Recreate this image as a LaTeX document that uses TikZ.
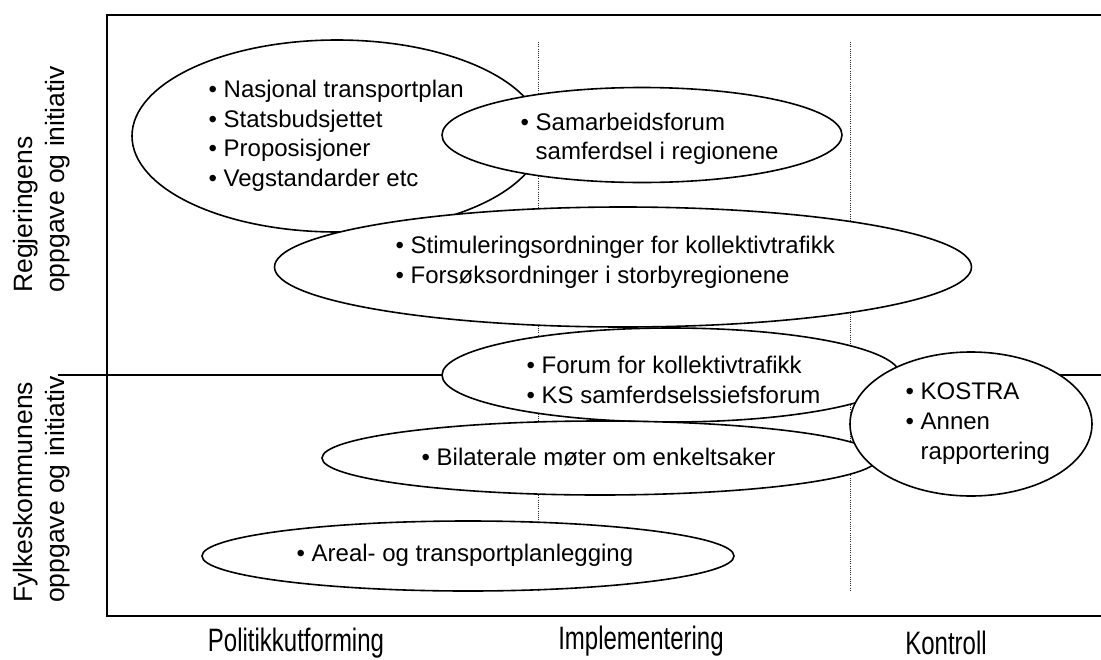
\documentclass[tikz,border=0pt]{standalone}
\usepackage{fontspec}
\setmainfont{Liberation Sans}
\usetikzlibrary{shapes.geometric}
% bullet followed by a fixed indent
\newcommand\bp{\makebox[15pt][l]{•}}
\newcommand\bpindent{\hspace*{15pt}}
% phase captions are set in a vertically stretched face
\newcommand\tallcap[1]{\scalebox{1}[1.35]{#1}}
\begin{document}
\begin{tikzpicture}[x=1pt,y=-1pt,
  frame/.style={line width=1.6pt},
  guide/.style={line width=1pt, dash pattern=on 1pt off 1.2pt, black!85},
  bubble/.style={ellipse, draw, line width=1.6pt, fill=white, inner sep=0pt},
  items/.style={anchor=west, align=left, inner sep=0pt, font=\fontsize{24}{29.5}\selectfont},
  phase/.style={anchor=base, inner sep=0pt, font=\fontsize{24}{29}\selectfont},
  side/.style={rotate=90, anchor=north west, align=left, inner sep=0pt, font=\fontsize{26.5}{32}\selectfont}]
\useasboundingbox (0,0) rectangle (1101,659);

% axes and separators
\coordinate (tl) at (107,15);
\coordinate (tr) at (1101,15);
\coordinate (bl) at (107,616);
\coordinate (br) at (1101,616);
\coordinate (ml) at (58,375);
\coordinate (mr) at (1101,375);
\coordinate (d1t) at (538,42);
\coordinate (d1b) at (538,592);
\coordinate (d2t) at (850,42);
\coordinate (d2b) at (850,592);

\draw[frame] (tr) -- (tl) -- (bl) -- (br);
\draw[frame] (ml) -- (mr);
\draw[guide] (d1t) -- (d1b);
\draw[guide] (d2t) -- (d2b);

% side labels
\node[side] (gov) at (13,293) {Regjeringens\\oppgave og initiativ};
\node[side] (cty) at (13,603) {Fylkeskommunens\\oppgave og initiativ};

% phases
\node[phase] (pol) at (296,651.5) {\tallcap{Politikkutforming}};
\node[phase] (imp) at (641,649) {\tallcap{Implementering}};
\node[phase] (kon) at (946,654) {\tallcap{Kontroll}};

% bubbles, back to front
\node[bubble, minimum width=410, minimum height=192] (e1) at (337,136) {};
\node[items] (t1) at (208.5,136) {\bp Nasjonal transportplan\\\bp Statsbudsjettet\\\bp Proposisjoner\\\bp Vegstandarder etc};

\node[bubble, minimum width=400, minimum height=95] (e2) at (642,135) {};
\node[items] (t2) at (520.5,139) {\bp Samarbeidsforum\\\bpindent samferdsel i regionene};

\node[bubble, minimum width=697, minimum height=120] (e3) at (623,267) {};
\node[items] (t3) at (395.5,262.5) {\bp Stimuleringsordninger for kollektivtrafikk\\\bp Forsøksordninger i storbyregionene};

\node[bubble, minimum width=458, minimum height=94] (e4) at (671,375) {};
\node[items] (t4) at (526.5,380) {\bp Forum for kollektivtrafikk\\\bp KS samferdselssiefsforum};

\node[bubble, minimum width=556, minimum height=74] (e5) at (600,458) {};
\node[items] (t5) at (421.5,457) {\bp Bilaterale møter om enkeltsaker};

\node[bubble, minimum width=532, minimum height=70] (e6) at (468,556) {};
\node[items] (t6) at (296.5,555) {\bp Areal- og transportplanlegging};

\node[bubble, minimum width=242, minimum height=144] (e7) at (971,424) {};
\node[items, font=\fontsize{24}{30}\selectfont] (t7) at (905.5,424) {\bp KOSTRA\\\bp Annen\\\bpindent rapportering};
\end{tikzpicture}
\end{document}
